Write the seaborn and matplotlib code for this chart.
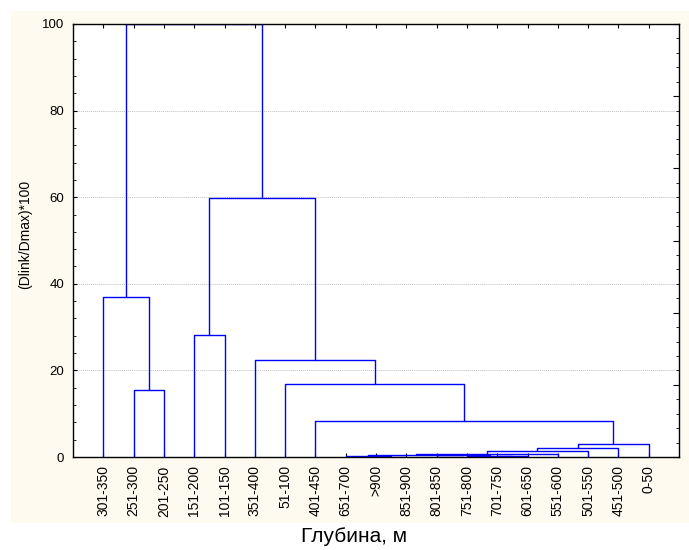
import matplotlib
matplotlib.use("Agg")
import matplotlib.pyplot as plt
from matplotlib.patches import Rectangle
from matplotlib.ticker import MultipleLocator
import numpy as np
import pandas as pd
import seaborn as sns

# Leaves of the tree in display order (depth intervals)
leaf_labels = ["301-350", "251-300", "201-250", "151-200", "101-150", "351-400",
               "51-100", "401-450", "651-700", ">900", "851-900", "801-850",
               "751-800", "701-750", "601-650", "551-600", "501-550", "451-500", "0-50"]

# Agglomeration steps: ids of the two joined nodes (leaves are 0..18,
# new clusters are numbered from 19 onward) and the linkage distance
merge_left = [9, 8, 13, 12, 11, 20, 24, 25, 26, 27, 7, 6, 5, 3, 32, 1, 0, 35]
merge_right = [10, 19, 14, 21, 22, 23, 15, 16, 17, 18, 28, 29, 30, 4, 31, 2, 34, 33]
merge_height = [0.10, 0.15, 0.20, 0.30, 0.35, 0.45, 0.70, 1.30, 2.00, 3.00,
                8.4, 16.8, 22.5, 28.1, 59.8, 15.5, 36.9, 100.0]

sns.set_theme(style="white")
plt.rcParams["font.family"] = ["Liberation Sans", "DejaVu Sans"]
plt.rcParams["text.color"] = "black"
plt.rcParams["axes.labelcolor"] = "black"
plt.rcParams["xtick.color"] = "black"
plt.rcParams["ytick.color"] = "black"

n = len(leaf_labels)
node_x = {i: i + 1.0 for i in range(n)}
node_h = {i: 0.0 for i in range(n)}

rows = []
for k, (a, b, h) in enumerate(zip(merge_left, merge_right, merge_height)):
    xa, xb = node_x[a], node_x[b]
    ha, hb = node_h[a], node_h[b]
    for px, py in [(xa, ha), (xa, h), (xb, h), (xb, hb)]:
        rows.append({"link": k, "x": px, "y": py})
    cid = n + k
    node_x[cid] = (xa + xb) / 2.0
    node_h[cid] = h

links = pd.DataFrame(rows)

fig = plt.figure(figsize=(6.89, 5.5), dpi=100)
fig.patch.set_facecolor("white")
backdrop = Rectangle((11 / 689, 27 / 550), 678 / 689, 512 / 550,
                     transform=fig.transFigure, facecolor="#fffaf0",
                     edgecolor="none", zorder=-10)
fig.patches.append(backdrop)

ax = fig.add_axes([73 / 689, 93 / 550, 606 / 689, 433 / 550])
ax.set_zorder(1)
ax.set_facecolor("white")

sns.lineplot(data=links, x="x", y="y", units="link", estimator=None, sort=False,
             color="#0000ff", linewidth=1.0, ax=ax, legend=False)

ax.set_xlim(0, n + 1)
ax.set_ylim(0, 100)
ax.set_xticks(np.arange(1, n + 1))
ax.set_xticklabels(leaf_labels, rotation=90, fontsize=10)
ax.yaxis.set_major_locator(MultipleLocator(20))
ax.yaxis.set_minor_locator(MultipleLocator(4))
ax.tick_params(axis="y", which="major", direction="in", length=3, width=0.8,
               labelsize=9.5, left=True, pad=6.5)
ax.tick_params(axis="y", which="minor", direction="in", length=2, width=0.6, left=True)
ax.tick_params(axis="x", which="major", direction="in", length=3, width=0.8,
               bottom=True, top=True, pad=6)
ax.set_xlabel("")
ax.set_ylabel("(Dlink/Dmax)*100", fontsize=10)
ax.yaxis.set_label_coords(-0.068, 0.513)
ax.grid(axis="y", which="major", color="#c0c0c0", linestyle=(0, (1, 1)), linewidth=0.7)
ax.grid(axis="x", visible=False)
for s in ax.spines.values():
    s.set_color("black")
    s.set_linewidth(1.0)

# Secondary scale on the right edge (ticks only)
ax2 = ax.twinx()
ax2.set_ylim(0, 6)
ax2.yaxis.set_major_locator(MultipleLocator(1))
ax2.yaxis.set_minor_locator(MultipleLocator(0.2))
ax2.tick_params(axis="y", which="major", direction="in", length=4, width=0.8,
                labelright=False, right=True)
ax2.tick_params(axis="y", which="minor", direction="in", length=2, width=0.6, right=True)
ax2.grid(False)
for s in ax2.spines.values():
    s.set_visible(False)

fig.text(354 / 689, 1 - 537 / 550, "Глубина, м", ha="center", va="center", fontsize=15)

fig.savefig("out.png", dpi=100, facecolor=fig.get_facecolor())
